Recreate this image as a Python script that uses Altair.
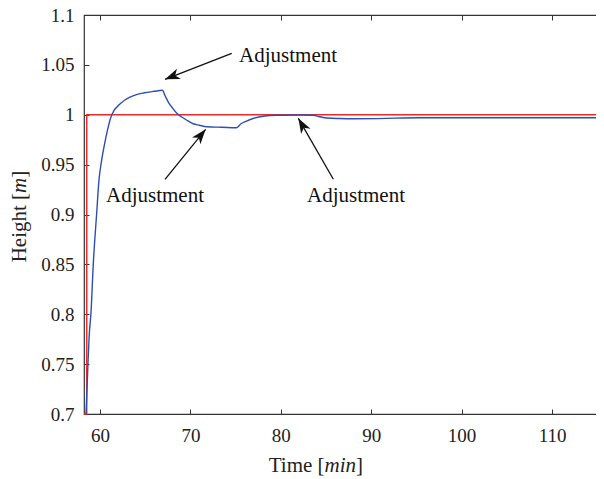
import math
import altair as alt
import pandas as pd

# ---------------- data ----------------
# set-point (red)
sp_time = [58.23, 58.53, 58.53, 115.75]
sp_height = [0.70, 0.70, 1.00, 1.00]

# measured level (blue)
resp_time = [58.45, 58.55, 58.67, 58.80, 59.00, 59.26, 59.63, 59.89, 60.14, 60.60,
             61.30, 62.30, 63.40, 64.90, 66.00, 66.90,
             67.20, 67.60, 68.00, 68.50, 69.00, 69.60, 70.30, 71.00, 71.80, 73.50, 75.10,
             75.60, 76.20, 77.00, 77.70, 78.80, 79.90, 82.00, 83.60,
             84.30, 85.10, 86.50, 88.10, 91.70, 93.50, 95.40, 100.0, 115.75]
resp_height = [0.700, 0.722, 0.751, 0.778, 0.801, 0.851, 0.901, 0.935, 0.952, 0.975,
               1.000, 1.0115, 1.018, 1.022, 1.0235, 1.0245,
               1.019, 1.012, 1.007, 1.0015, 0.998, 0.9945, 0.991, 0.9895, 0.988, 0.9875, 0.987,
               0.991, 0.9937, 0.9965, 0.998, 0.9992, 0.9995, 0.9998, 0.9995,
               0.998, 0.9967, 0.9962, 0.9960, 0.9964, 0.9968, 0.9970, 0.9970, 0.9970]

# annotations
ann_text = ["Adjustment", "Adjustment", "Adjustment"]
ann_time = [80.80, 66.08, 88.32]
ann_height = [1.0532, 0.9128, 0.9128]

arrow_tail_time = [74.57, 67.19, 85.81]
arrow_tail_height = [1.0616, 0.9353, 0.9353]
arrow_tip_time = [67.19, 71.69, 81.94]
arrow_tip_height = [1.0355, 0.9854, 0.9964]

x_ticks = [60, 70, 80, 90, 100, 110]
y_ticks = [0.7, 0.75, 0.8, 0.85, 0.9, 0.95, 1.0, 1.05, 1.1]

X_DOMAIN = [58.23, 115.75]
Y_DOMAIN = [0.7, 1.1]
W, H = 520, 399

FONT = "Liberation Serif"
TICK_FS = 19
TITLE_FS = 21

# ---------------- frames ----------------
sp_df = pd.DataFrame({"t": sp_time, "h": sp_height})
resp_df = pd.DataFrame({"t": resp_time, "h": resp_height})
ann_df = pd.DataFrame({"t": ann_time, "h": ann_height, "label": ann_text})

px_per_t = W / (X_DOMAIN[1] - X_DOMAIN[0])
px_per_h = H / (Y_DOMAIN[1] - Y_DOMAIN[0])
angles = []
for t0, h0, t1, h1 in zip(arrow_tail_time, arrow_tail_height, arrow_tip_time, arrow_tip_height):
    dx = (t1 - t0) * px_per_t
    dy = -(h1 - h0) * px_per_h
    angles.append(math.degrees(math.atan2(dx, -dy)) % 360)
arr_df = pd.DataFrame({"t": arrow_tail_time, "h": arrow_tail_height,
                       "t2": arrow_tip_time, "h2": arrow_tip_height, "ang": angles})

xs = alt.Scale(domain=X_DOMAIN, nice=False, zero=False)
ys = alt.Scale(domain=Y_DOMAIN, nice=False, zero=False)

common_axis = dict(grid=False, domain=False, tickColor="#333333", tickWidth=1,
                   tickSize=5, offset=-5, labelFont=FONT, labelFontSize=TICK_FS,
                   labelColor="#222222", title=None)

x_bottom = alt.Axis(orient="bottom", values=x_ticks, labelPadding=12, **common_axis)
y_left = alt.Axis(orient="left", values=y_ticks, labelPadding=10, format="~g",
                  labelFlush=False, **common_axis)
x_top = alt.Axis(orient="top", values=x_ticks, labels=False, **common_axis)
y_right = alt.Axis(orient="right", values=y_ticks, labels=False, **common_axis)

setpoint = alt.Chart(sp_df).mark_line(color="#ee2a2a", strokeWidth=1.5).encode(
    x=alt.X("t:Q", scale=xs, axis=x_bottom),
    y=alt.Y("h:Q", scale=ys, axis=y_left),
)

response = alt.Chart(resp_df).mark_line(color="#2d4fb2", strokeWidth=1.4,
                                        interpolate="monotone").encode(
    x=alt.X("t:Q", scale=xs, axis=x_top),
    y=alt.Y("h:Q", scale=ys, axis=y_right),
)

arrow_lines = alt.Chart(arr_df).mark_rule(color="#111111", strokeWidth=1.3).encode(
    x=alt.X("t:Q", scale=xs, axis=None),
    y=alt.Y("h:Q", scale=ys, axis=None),
    x2="t2:Q",
    y2="h2:Q",
)

arrow_heads = alt.Chart(arr_df).mark_point(
    shape="M0,0L-0.36,1L0,0.72L0.36,1Z", filled=True, color="#111111",
    opacity=1, size=900, strokeWidth=0,
).encode(
    x=alt.X("t2:Q", scale=xs, axis=None),
    y=alt.Y("h2:Q", scale=ys, axis=None),
    angle=alt.Angle("ang:Q", scale=None),
)

labels = alt.Chart(ann_df).mark_text(font=FONT, fontSize=TITLE_FS, color="#111111",
                                     align="center", baseline="alphabetic").encode(
    x=alt.X("t:Q", scale=xs, axis=None),
    y=alt.Y("h:Q", scale=ys, axis=None),
    text="label:N",
)

one = alt.Data(values=[{"k": 1}])


def txt(s, x, y, align, italic=False, angle=0):
    kw = dict(font=FONT, fontSize=TITLE_FS, color="#222222", align=align,
              baseline="alphabetic", text=s)
    if italic:
        kw["fontStyle"] = "italic"
    if angle:
        kw["angle"] = angle
    return alt.Chart(one).mark_text(**kw).encode(x=alt.value(x), y=alt.value(y))


# x title "Time [min]"
xa = 240.6
XT_Y = 457
xt1 = txt("Time [", xa, XT_Y, "right")
xt2 = txt("min", xa, XT_Y, "left", italic=True)
xt3 = txt("]", xa + 31.5, XT_Y, "left")

# y title "Height [m]" (rotated)
ya = 177.9
yt1 = txt("Height [", -58, ya, "right", angle=270)
yt2 = txt("m", -58, ya, "left", italic=True, angle=270)
yt3 = txt("]", -58, ya - 15.2, "left", angle=270)

chart = alt.layer(
    setpoint, response, arrow_lines, arrow_heads, labels,
    xt1, xt2, xt3, yt1, yt2, yt3,
).resolve_axis(x="independent", y="independent").properties(
    width=W, height=H,
    autosize=alt.AutoSizeParams(type="none"),
    padding={"left": 76, "top": 7, "right": -8, "bottom": 64},
    background="white",
).configure_view(stroke="#333333", strokeWidth=1.2)

chart.save("out.html", embed_options={"renderer": "svg", "actions": False})
